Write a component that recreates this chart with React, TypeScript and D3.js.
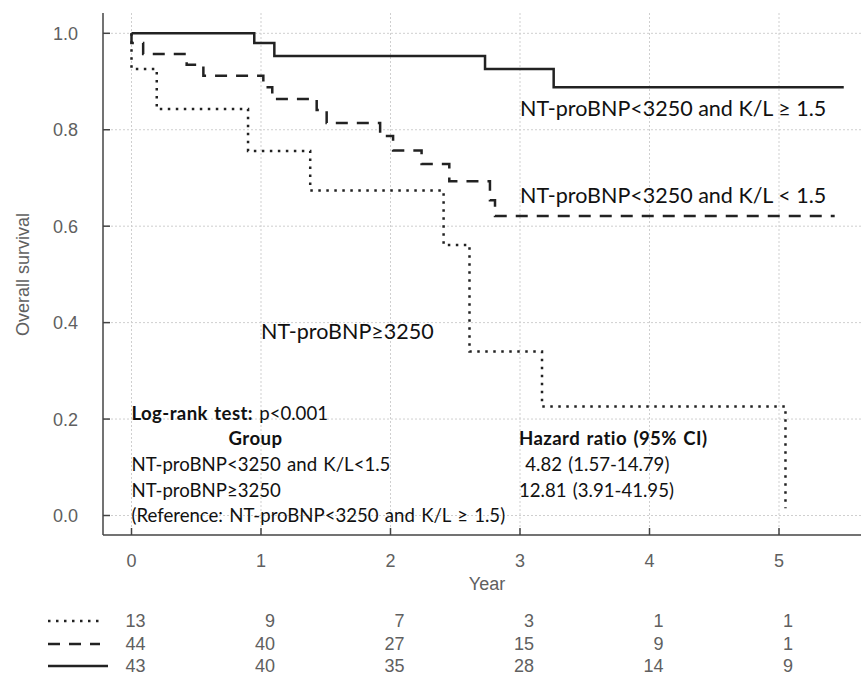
import React from "react";
import * as d3 from "d3";

// Kaplan-Meier steps
const highBnpTimes = [0, 0, 0.195, 0.9, 1.38, 2.41, 2.61, 3.17, 5.05];
const highBnpSurv = [1, 0.926, 0.843, 0.756, 0.674, 0.561, 0.34, 0.226, 0.015];

const lowKlTimes = [0, 0, 0.09, 0.426, 0.555, 1.018, 1.087, 1.43, 1.507, 1.92, 2.02, 2.24, 2.454, 2.768, 2.807, 5.43];
const lowKlSurv = [1, 0.98, 0.957, 0.935, 0.912, 0.888, 0.864, 0.841, 0.814, 0.787, 0.757, 0.729, 0.693, 0.654, 0.621, 0.621];

const highKlTimes = [0, 0.948, 1.103, 2.73, 3.26, 5.5];
const highKlSurv = [1, 0.98, 0.953, 0.926, 0.888, 0.888];

const yearTicks = [0, 1, 2, 3, 4, 5];
const survTicks = [0, 0.2, 0.4, 0.6, 0.8, 1.0];

// numbers at risk
const riskHighBnp = [13, 9, 7, 3, 1, 1];
const riskLowKl = [44, 40, 27, 15, 9, 1];
const riskHighKl = [43, 40, 35, 28, 14, 9];

const curveLabels = [
  "NT-proBNP<3250 and K/L \u2265 1.5",
  "NT-proBNP<3250 and K/L < 1.5",
  "NT-proBNP\u22653250",
];
const tableGroups = ["NT-proBNP<3250 and K/L<1.5", "NT-proBNP\u22653250"];
const tableHazards = [" 4.82 (1.57-14.79)", "12.81 (3.91-41.95)"];

const W = 861;
const H = 675;

const axisFont = "'Liberation Sans', Arial, sans-serif";
const textFont = "Lato, 'Open Sans', sans-serif";

export default function App() {
  const x = d3.scaleLinear().domain([0, 5]).range([131.5, 779]);
  const y = d3.scaleLinear().domain([0, 1]).range([515.5, 33.3]);
  const left = 103;
  const bottom = 535;
  const top = 13;

  const line = d3
    .line<[number, number]>()
    .x((d) => x(d[0]))
    .y((d) => y(d[1]))
    .curve(d3.curveStepAfter);

  const pts = (ts: number[], ss: number[]) => ts.map((t, i) => [t, ss[i]] as [number, number]);

  const curves = [
    { d: line(pts(highBnpTimes, highBnpSurv)), dash: "2.5,5.5", w: 2.5 },
    { d: line(pts(lowKlTimes, lowKlSurv)), dash: "12,9", w: 2.5 },
    { d: line(pts(highKlTimes, highKlSurv)), dash: null, w: 2.5 },
  ];

  const riskRows = [
    { vals: riskHighBnp, dash: "2.5,5.5", x2: 100, base: 627 },
    { vals: riskLowKl, dash: "12,9", x2: 100, base: 650 },
    { vals: riskHighKl, dash: null, x2: 108, base: 672 },
  ];

  return (
    <svg
      width={W}
      height={H}
      style={{ position: "absolute", left: 0, top: 0, background: "#fff" }}
    >
      {/* grid */}
      <g stroke="#cfcfcf" strokeWidth={1} strokeDasharray="2,2">
        {survTicks.map((v) => (
          <line key={"gy" + v} x1={left} x2={W} y1={y(v)} y2={y(v)} />
        ))}
        {yearTicks.map((t) => (
          <line key={"gx" + t} x1={x(t)} x2={x(t)} y1={top} y2={bottom} />
        ))}
      </g>

      {/* axes */}
      <g stroke="#444" strokeWidth={1.5}>
        <line x1={left} x2={left} y1={top} y2={bottom} />
        <line x1={left} x2={W} y1={bottom} y2={bottom} />
        {survTicks.map((v) => (
          <line key={"ty" + v} x1={left} x2={left + 7} y1={y(v)} y2={y(v)} />
        ))}
        {yearTicks.map((t) => (
          <line key={"tx" + t} x1={x(t)} x2={x(t)} y1={bottom} y2={bottom - 7} />
        ))}
      </g>

      <g fontFamily={axisFont} fontSize={18} fill="#606060">
        {survTicks.map((v) => (
          <text key={"ly" + v} x={78} y={y(v) + 6.5} textAnchor="end">
            {d3.format(".1f")(v)}
          </text>
        ))}
        {yearTicks.map((t) => (
          <text key={"lx" + t} x={x(t)} y={567} textAnchor="middle">
            {t}
          </text>
        ))}
        <text x={487} y={590} textAnchor="middle">
          Year
        </text>
        <text transform="translate(29,274.5) rotate(-90)" textAnchor="middle">
          Overall survival
        </text>
      </g>

      {/* survival curves */}
      <g fill="none" stroke="#222">
        {curves.map((c, i) => (
          <path
            key={i}
            d={c.d || ""}
            strokeWidth={c.w}
            strokeDasharray={c.dash || undefined}
          />
        ))}
      </g>

      {/* curve labels */}
      <g fontFamily={textFont} fontSize={21.5} fill="#111">
        <text x={x(3)} y={y(0.829)}>{curveLabels[0]}</text>
        <text x={x(3)} y={y(0.648)}>{curveLabels[1]}</text>
        <text x={x(1)} y={y(0.366)}>{curveLabels[2]}</text>
      </g>

      {/* statistics table */}
      <g fontFamily={textFont} fontSize={18.6} fill="#111" wordSpacing={1.5}>
        <text x={x(0)} y={420}>
          <tspan fontWeight="bold" letterSpacing={0.4}>Log-rank test:</tspan> p&lt;0.001
        </text>
        <text x={255.5} y={445} fontWeight="bold" letterSpacing={0.4} textAnchor="middle">
          Group
        </text>
        <text x={519} y={445} fontWeight="bold" letterSpacing={0.4}>
          Hazard ratio (95% CI)
        </text>
        {tableGroups.map((g, i) => (
          <text key={g} x={x(0)} y={471 + i * 25.7}>
            {g}
          </text>
        ))}
        {tableHazards.map((h, i) => (
          <text key={h} x={519} y={471 + i * 25.7} style={{ whiteSpace: "pre" }}>
            {h}
          </text>
        ))}
        <text x={x(0)} y={522}>
          (Reference: NT-proBNP&lt;3250 and K/L {"\u2265"} 1.5)
        </text>
      </g>

      {/* numbers at risk */}
      {riskRows.map((r, i) => (
        <g key={i}>
          <line
            x1={48}
            x2={r.x2}
            y1={r.base - 6}
            y2={r.base - 6}
            stroke="#222"
            strokeWidth={2.5}
            strokeDasharray={r.dash || undefined}
          />
          {r.vals.map((v, j) => (
            <text
              key={j}
              x={x(yearTicks[j]) + 14}
              y={r.base}
              textAnchor="end"
              fontFamily={axisFont}
              fontSize={18}
              fill="#606060"
            >
              {v}
            </text>
          ))}
        </g>
      ))}
    </svg>
  );
}
